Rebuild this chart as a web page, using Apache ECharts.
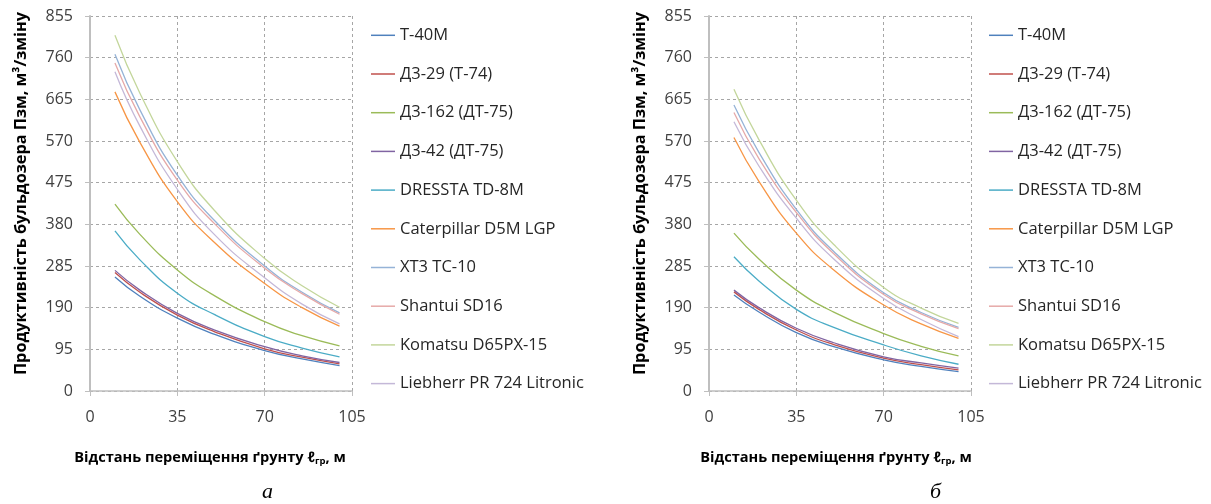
<!DOCTYPE html>
<html><head><meta charset="utf-8">
<script src="https://cdn.jsdelivr.net/npm/echarts@6/dist/echarts.min.js"></script>
<style>html,body{margin:0;padding:0;background:#fff}#c{width:1211px;height:504px}</style>
</head><body><div id="c"></div>
<script>
// distances, m
const distances = [10, 20, 35, 50, 70, 85, 100];
const xTickValues = [0, 35, 70, 105];
const yTickValues = [0, 95, 190, 285, 380, 475, 570, 665, 760, 855];
const seriesNames = ['T-40M', 'Д3-29 (T-74)', 'Д3-162 (ДТ-75)', 'Д3-42 (ДТ-75)', 'DRESSTA TD-8M',
  'Caterpillar D5M LGP', 'XT3 TC-10', 'Shantui SD16', 'Komatsu D65PX-15', 'Liebherr PR 724 Litronic'];

// chart а
const a_T40M        = [260, 216, 166, 129, 92, 73, 58];
const a_D3_29       = [270, 225, 173, 135, 96, 77, 62];
const a_D3_162      = [426, 357, 276, 217, 158, 126, 103];
const a_D3_42       = [275, 230, 177, 139, 101, 80, 65];
const a_Dressta     = [365, 299, 223, 174, 124, 98, 78];
const a_Caterpillar = [682, 567, 432, 338, 245, 190, 148];
const a_XT3         = [768, 641, 492, 388, 285, 225, 178];
const a_Shantui     = [748, 625, 481, 381, 280, 222, 175];
const a_Komatsu     = [811, 679, 523, 411, 302, 240, 191];
const a_Liebherr    = [728, 604, 460, 356, 258, 198, 153];

// chart б
const b_T40M        = [219, 180, 133, 101, 71, 56, 44];
const b_D3_29       = [226, 186, 139, 106, 75, 60, 48];
const b_D3_162      = [360, 301, 230, 180, 131, 102, 80];
const b_D3_42       = [230, 190, 143, 110, 78, 64, 52];
const b_Dressta     = [306, 251, 186, 145, 105, 80, 61];
const b_Caterpillar = [578, 478, 360, 276, 196, 153, 120];
const b_XT3         = [652, 544, 414, 318, 224, 179, 145];
const b_Shantui     = [635, 530, 407, 313, 220, 176, 142];
const b_Komatsu     = [688, 573, 435, 334, 236, 189, 154];
const b_Liebherr    = [614, 513, 394, 301, 211, 163, 124];

const colors = ['#4F81BD', '#C0504D', '#9BBB59', '#8064A2', '#4BACC6', '#F79646',
  '#95B3D7', '#E6A9A8', '#C3D69B', '#C4B8D8'];

const setA = [a_T40M, a_D3_29, a_D3_162, a_D3_42, a_Dressta, a_Caterpillar, a_XT3, a_Shantui, a_Komatsu, a_Liebherr];
const setB = [b_T40M, b_D3_29, b_D3_162, b_D3_42, b_Dressta, b_Caterpillar, b_XT3, b_Shantui, b_Komatsu, b_Liebherr];

const FONT = '"Open Sans", "Noto Sans", sans-serif';

function xAxisCfg(gi, shift) {
  return {
    type: 'value', gridIndex: gi, min: 0, max: 105, interval: 35,
    axisLine: { show: true, lineStyle: { color: '#BFBFBF', width: 1.5 } },
    axisTick: { show: true, length: 5, lineStyle: { color: '#BFBFBF' } },
    axisLabel: { margin: 18, fontSize: 16, color: '#404040', fontFamily: FONT },
    splitLine: { show: true, lineStyle: { color: '#A6A6A6', type: [3, 3], width: 1 } },
    name: '{b|Відстань переміщення ґрунту ℓ}{s|гр}{b|, м}',
    nameLocation: 'middle', nameGap: 58,
    nameTextStyle: {
      padding: [0, shift, 0, 0],
      rich: {
        b: { fontSize: 14.6, fontWeight: 'bold', color: '#000', fontFamily: FONT },
        s: { fontSize: 9.5, fontWeight: 'bold', color: '#000', fontFamily: FONT, padding: [7, 0, 0, 0] }
      }
    }
  };
}
function yAxisCfg(gi) {
  return {
    type: 'value', gridIndex: gi, min: 0, max: 855, interval: 95,
    axisLine: { show: true, lineStyle: { color: '#BFBFBF', width: 2 } },
    axisTick: { show: true, length: 5, lineStyle: { color: '#BFBFBF' } },
    axisLabel: { margin: 17, fontSize: 16, color: '#404040', fontFamily: FONT },
    splitLine: { show: true, lineStyle: { color: '#A6A6A6', type: [3, 3], width: 1 } },
    name: 'Продуктивність бульдозера Пзм, м³/зміну',
    nameLocation: 'middle', nameGap: 61, nameRotate: 90,
    nameTextStyle: { fontSize: 16.3, fontWeight: 'bold', color: '#000', fontFamily: FONT, padding: [0, 0, 0, 20] }
  };
}

const series = [];
[setA, setB].forEach((set, gi) => {
  set.forEach((vals, i) => {
    series.push({
      name: seriesNames[i], type: 'line', xAxisIndex: gi, yAxisIndex: gi,
      smooth: true, symbol: 'none',
      lineStyle: { width: 1.3, color: colors[i] }, itemStyle: { color: colors[i] },
      data: distances.map((d, k) => [d, vals[k]])
    });
  });
});

function legendCfg(left) {
  return {
    data: seriesNames, orient: 'vertical', left: left, top: 21.8,
    icon: 'rect', itemWidth: 24, itemHeight: 1.5, itemGap: 21.7,
    textStyle: { fontSize: 16.5, lineHeight: 16, color: '#262626', fontFamily: FONT },
    selectedMode: false
  };
}

const chart = echarts.init(document.getElementById('c'));
chart.setOption({
  animation: false,
  backgroundColor: '#fff',
  grid: [
    { left: 90, top: 16, width: 262, height: 375 },
    { left: 709, top: 16, width: 262, height: 375 }
  ],
  xAxis: [xAxisCfg(0, 22), xAxisCfg(1, 8)],
  yAxis: [yAxisCfg(0), yAxisCfg(1)],
  legend: [legendCfg(366), legendCfg(984)],
  series: series,
  graphic: [
    { type: 'text', left: 262, top: 481, style: { text: 'а', font: 'italic 22px "Liberation Serif", serif', fill: '#000' } },
    { type: 'text', left: 930, top: 481, style: { text: 'б', font: 'italic 22px "Liberation Serif", serif', fill: '#000' } }
  ]
});
</script>
</body></html>
